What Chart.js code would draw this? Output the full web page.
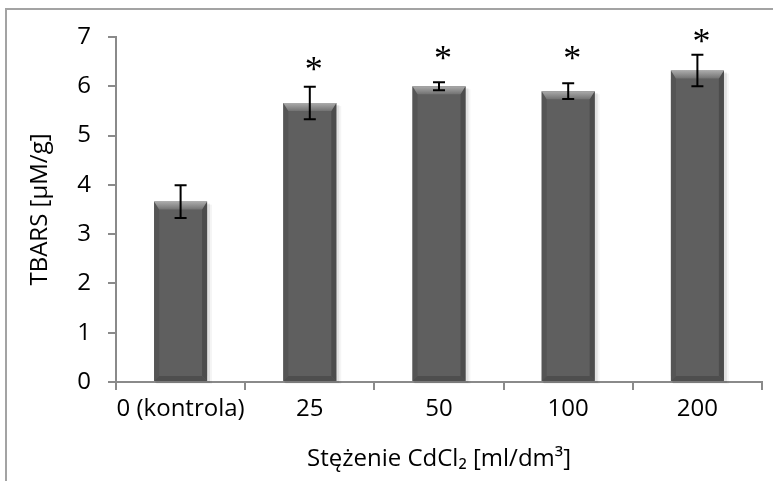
<!DOCTYPE html>
<html><head><meta charset="utf-8">
<script src="https://cdn.jsdelivr.net/npm/chart.js@4"></script>
<style>html,body{margin:0;padding:0;background:#fff}</style>
</head><body>
<canvas id="c" width="773" height="481"></canvas>
<script>
const categories = ['0 (kontrola)', '25', '50', '100', '200'];
const values = [3.66, 5.66, 6.0, 5.9, 6.32];
const errors = [0.33, 0.33, 0.08, 0.16, 0.32];
const starLevels = [null, 6.43, 6.65, 6.65, 7.0];
const yTicks = [0, 1, 2, 3, 4, 5, 6, 7];
const xTitle = 'Stężenie CdCl₂ [ml/dm³]';
const yTitle = 'TBARS [µM/g]';

const FONT = '"Open Sans", "Noto Sans", sans-serif';
const AXIS = '#8a8a8a';

const decor = {
  id: 'decor',
  beforeDraw(chart) {
    const ctx = chart.ctx;
    ctx.save();
    ctx.fillStyle = '#fff';
    ctx.fillRect(0, 0, chart.width, chart.height);
    ctx.strokeStyle = '#a3a3a3';
    ctx.lineWidth = 2;
    ctx.beginPath();
    ctx.moveTo(6, chart.height);
    ctx.lineTo(6, 9);
    ctx.lineTo(chart.width, 9);
    ctx.stroke();
    ctx.restore();
  },
  beforeDatasetsDraw(chart) {
    const ctx = chart.ctx;
    const meta = chart.getDatasetMeta(0);
    ctx.save();
    meta.data.forEach(bar => {
      const p = bar.getProps(['x', 'y', 'base', 'width'], true);
      const l = p.x - p.width / 2;
      ctx.fillStyle = 'rgba(0,0,0,0.08)';
      ctx.fillRect(l + 1, p.y + 2, p.width + 2, p.base - p.y);
      ctx.fillStyle = 'rgba(0,0,0,0.04)';
      ctx.fillRect(l + 2, p.y + 3, p.width + 3, p.base - p.y);
    });
    ctx.restore();
  },
  afterDatasetsDraw(chart) {
    const ctx = chart.ctx;
    const ys = chart.scales.y;
    const meta = chart.getDatasetMeta(0);
    ctx.save();
    meta.data.forEach((bar, i) => {
      const p = bar.getProps(['x', 'y', 'base', 'width'], true);
      const l = p.x - p.width / 2, r = p.x + p.width / 2, t = p.y, b = p.base;
      const tb = 8, sb = 5, bb = 5;
      ctx.fillStyle = '#555555';
      ctx.beginPath(); ctx.moveTo(l, t); ctx.lineTo(l + sb, t + tb); ctx.lineTo(l + sb, b - bb); ctx.lineTo(l, b); ctx.closePath(); ctx.fill();
      ctx.fillStyle = '#4c4c4c';
      ctx.beginPath(); ctx.moveTo(r, t); ctx.lineTo(r - sb, t + tb); ctx.lineTo(r - sb, b - bb); ctx.lineTo(r, b); ctx.closePath(); ctx.fill();
      ctx.fillStyle = '#4e4e4e';
      ctx.beginPath(); ctx.moveTo(l, b); ctx.lineTo(l + sb, b - bb); ctx.lineTo(r - sb, b - bb); ctx.lineTo(r, b); ctx.closePath(); ctx.fill();
      const g = ctx.createLinearGradient(0, t, 0, t + tb);
      g.addColorStop(0, '#ababab');
      g.addColorStop(1, '#727272');
      ctx.fillStyle = g;
      ctx.beginPath(); ctx.moveTo(l, t); ctx.lineTo(r, t); ctx.lineTo(r - sb, t + tb); ctx.lineTo(l + sb, t + tb); ctx.closePath(); ctx.fill();
      const yHi = ys.getPixelForValue(values[i] + errors[i]);
      const yLo = ys.getPixelForValue(values[i] - errors[i]);
      ctx.strokeStyle = '#000';
      ctx.lineWidth = 2;
      ctx.beginPath();
      ctx.moveTo(p.x, yHi); ctx.lineTo(p.x, yLo);
      ctx.moveTo(p.x - 6, yHi); ctx.lineTo(p.x + 6, yHi);
      ctx.moveTo(p.x - 6, yLo); ctx.lineTo(p.x + 6, yLo);
      ctx.stroke();
      if (starLevels[i] !== null) {
        const sy = ys.getPixelForValue(starLevels[i]);
        ctx.fillStyle = '#000';
        ctx.font = '36px "Liberation Serif", "DejaVu Serif", serif';
        ctx.textAlign = 'center';
        ctx.textBaseline = 'alphabetic';
        ctx.fillText('*', p.x + 4, sy + 16);
      }
    });
    ctx.restore();
  }
};

new Chart(document.getElementById('c'), {
  type: 'bar',
  data: {
    labels: categories,
    datasets: [{
      data: values,
      backgroundColor: '#5f5f5f',
      borderWidth: 0,
      barPercentage: 0.41,
      categoryPercentage: 1
    }]
  },
  options: {
    responsive: false,
    animation: false,
    layout: { padding: { left: 0, top: 37, right: 11, bottom: 0 } },
    plugins: { legend: { display: false }, tooltip: { enabled: false } },
    scales: {
      x: {
        z: 1,
        offset: true,
        grid: { display: true, drawOnChartArea: false, drawTicks: true, tickLength: 8, color: AXIS, lineWidth: 2, offset: true },
        border: { display: true, color: AXIS, width: 2 },
        ticks: { color: '#000', font: { family: FONT, size: 24 }, padding: 5, maxRotation: 0, autoSkip: false },
        title: { display: true, text: xTitle, color: '#000', font: { family: FONT, size: 24 }, padding: { top: 0, bottom: 7 } },
        afterFit(scale) { scale.height = 99; }
      },
      y: {
        min: 0, max: 7,
        afterBuildTicks(scale) { scale.ticks = yTicks.map(v => ({ value: v })); },
        grid: { display: true, drawOnChartArea: false, drawTicks: true, tickLength: 8, color: AXIS, lineWidth: 2 },
        border: { display: true, color: AXIS, width: 2 },
        ticks: { color: '#000', font: { family: FONT, size: 24 }, padding: 17 },
        title: { display: true, text: yTitle, color: '#000', font: { family: FONT, size: 24 }, padding: { top: 26, bottom: 0 } },
        afterFit(scale) { scale.width = 116; }
      }
    }
  },
  plugins: [decor]
});
</script>
</body></html>
